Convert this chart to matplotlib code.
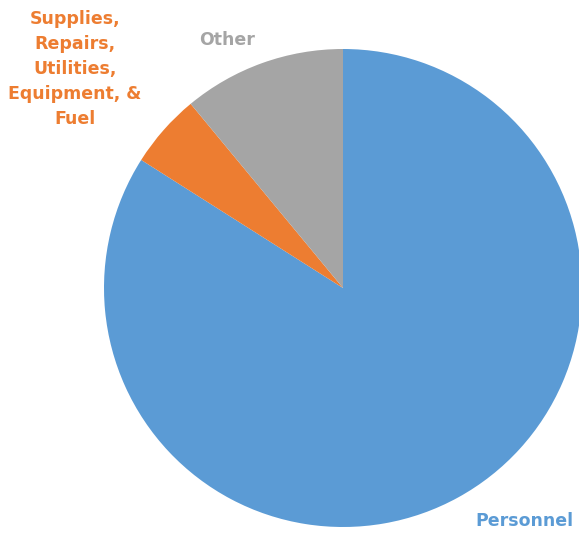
import matplotlib.pyplot as plt

labels = ['Personnel', 'Supplies,\nRepairs,\nUtilities,\nEquipment, &\nFuel', 'Other']
shares = [84, 5, 11]
colors = ['#5B9BD5', '#ED7D31', '#A5A5A5']

W, H = 579, 536
fig = plt.figure(figsize=(W / 100, H / 100), dpi=100)
ax = fig.add_axes([0, 0, 1, 1])

ax.pie(shares, colors=colors, startangle=90, counterclock=False,
       center=(343, H - 288), radius=239, frame=True,
       wedgeprops=dict(linewidth=0))
ax.set_xlim(0, W)
ax.set_ylim(0, H)
ax.set_aspect('equal')
ax.axis('off')

font = dict(family='DejaVu Sans', weight='bold', fontsize=12.5)
ax.text(524, H - 521, labels[0], color=colors[0], ha='center', va='center', **font)
ax.text(75, H - 69, labels[1], color=colors[1], ha='center', va='center',
        linespacing=1.5, **font)
ax.text(227, H - 40, labels[2], color=colors[2], ha='center', va='center', **font)

fig.savefig('out.png', dpi=100)
